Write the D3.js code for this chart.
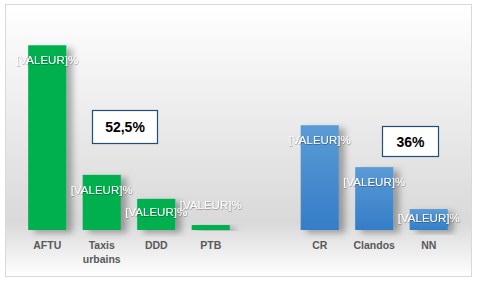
<!DOCTYPE html>
<html>
<head>
<meta charset="utf-8">
<script src="https://cdn.jsdelivr.net/npm/d3@7"></script>
<style>
  body { margin: 0; background: #fff; }
  svg { display: block; font-family: "Liberation Sans", Arial, sans-serif; }
</style>
</head>
<body>
<div id="chart"></div>
<script>
// categories (empty slot separates the two groups)
const categories = ["AFTU", "Taxis urbains", "DDD", "PTB", "", "CR", "Clandos", "NN"];
const greenValues = [67, 20, 11.3, 1.8];          // AFTU .. PTB
const blueValues = [38, 22.8, 7.6];               // CR, Clandos, NN
const labelText = "[VALEUR]%";
const boxes = ["52,5%", "36%"];

const W = 478, H = 283;
const baseY = 230;

const bars = [];
greenValues.forEach((v, i) => bars.push({ cat: categories[i], value: v, color: "green" }));
blueValues.forEach((v, i) => bars.push({ cat: categories[i + 5], value: v, color: "blue" }));

const svg = d3.select("#chart").append("svg")
  .attr("width", W)
  .attr("height", H);

const defs = svg.append("defs");

// background gradient
const bg = defs.append("linearGradient").attr("id", "bgGrad")
  .attr("x1", 0).attr("y1", 0).attr("x2", 0).attr("y2", 1);
bg.append("stop").attr("offset", "0%").attr("stop-color", "#ffffff");
bg.append("stop").attr("offset", "80%").attr("stop-color", "#d9d9d9");
bg.append("stop").attr("offset", "100%").attr("stop-color", "#ffffff");

// blue bar gradient
const bl = defs.append("linearGradient").attr("id", "blueGrad")
  .attr("x1", 0).attr("y1", 0).attr("x2", 0).attr("y2", 1);
bl.append("stop").attr("offset", "0%").attr("stop-color", "#5b9bd5");
bl.append("stop").attr("offset", "100%").attr("stop-color", "#357dc8");

// shadow
const sh = defs.append("filter").attr("id", "shadow")
  .attr("x", "-20%").attr("y", "-20%").attr("width", "160%").attr("height", "140%");
sh.append("feDropShadow")
  .attr("dx", 6).attr("dy", 3).attr("stdDeviation", 3)
  .attr("flood-color", "#000").attr("flood-opacity", 0.3);

const tsh = defs.append("filter").attr("id", "tshadow")
  .attr("x", "-10%").attr("y", "-30%").attr("width", "120%").attr("height", "160%");
tsh.append("feDropShadow")
  .attr("dx", 0.4).attr("dy", 0.6).attr("stdDeviation", 0.7)
  .attr("flood-color", "#000").attr("flood-opacity", 0.5);

// frame
svg.append("rect")
  .attr("x", 5.5).attr("y", 4.5)
  .attr("width", 466).attr("height", 272)
  .attr("fill", "url(#bgGrad)")
  .attr("stroke", "#d9d9d9");

const x = d3.scaleBand()
  .domain(categories)
  .range([20, 456])
  .paddingInner(0.3)
  .paddingOuter(0.15);

const y = d3.scaleLinear()
  .domain([0, 70])
  .range([baseY, 37]);

// bars
svg.append("g")
  .selectAll("rect")
  .data(bars)
  .enter()
  .append("rect")
  .attr("x", d => x(d.cat))
  .attr("y", d => y(d.value))
  .attr("width", x.bandwidth())
  .attr("height", d => baseY - y(d.value))
  .attr("fill", d => d.color == "green" ? "#00b050" : "url(#blueGrad)")
  .attr("filter", "url(#shadow)");

// data labels
svg.append("g")
  .selectAll("text")
  .data(bars)
  .enter()
  .append("text")
  .attr("x", d => x(d.cat) + x.bandwidth() / 2)
  .attr("y", d => {
    const top = y(d.value);
    const h = baseY - top;
    if (h < 12) return top - 20;
    return Math.min(top + 15, (top + baseY) / 2 - 2);
  })
  .attr("dy", "0.35em")
  .attr("text-anchor", "middle")
  .attr("font-size", 11.5)
  .attr("fill", "#ffffff")
  .attr("filter", "url(#tshadow)")
  .text(labelText);

// category labels
const catG = svg.append("g");
categories.filter(c => c != "").forEach(c => {
  const t = catG.append("text")
    .attr("x", x(c) + x.bandwidth() / 2)
    .attr("y", 249)
    .attr("text-anchor", "middle")
    .attr("font-size", 10.5)
    .attr("font-weight", "bold")
    .attr("fill", "#595959");
  c.split(" ").forEach((w, i) => {
    t.append("tspan")
      .attr("x", x(c) + x.bandwidth() / 2)
      .attr("dy", i == 0 ? 0 : 14)
      .text(w);
  });
});

// text boxes
const boxPos = [
  { x: 92, y: 110, w: 65, h: 33 },
  { x: 382, y: 126, w: 56, h: 30 }
];
boxes.forEach((b, i) => {
  const p = boxPos[i];
  svg.append("rect")
    .attr("x", p.x + 0.5).attr("y", p.y + 0.5)
    .attr("width", p.w).attr("height", p.h)
    .attr("fill", "#ffffff")
    .attr("stroke", "#1f4e79")
    .attr("stroke-width", 1.2);
  svg.append("text")
    .attr("x", p.x + p.w / 2 + 0.5)
    .attr("y", p.y + p.h / 2 + 1)
    .attr("dy", "0.35em")
    .attr("text-anchor", "middle")
    .attr("font-size", 14)
    .attr("font-weight", "bold")
    .attr("fill", "#000")
    .text(b);
});
</script>
</body>
</html>
